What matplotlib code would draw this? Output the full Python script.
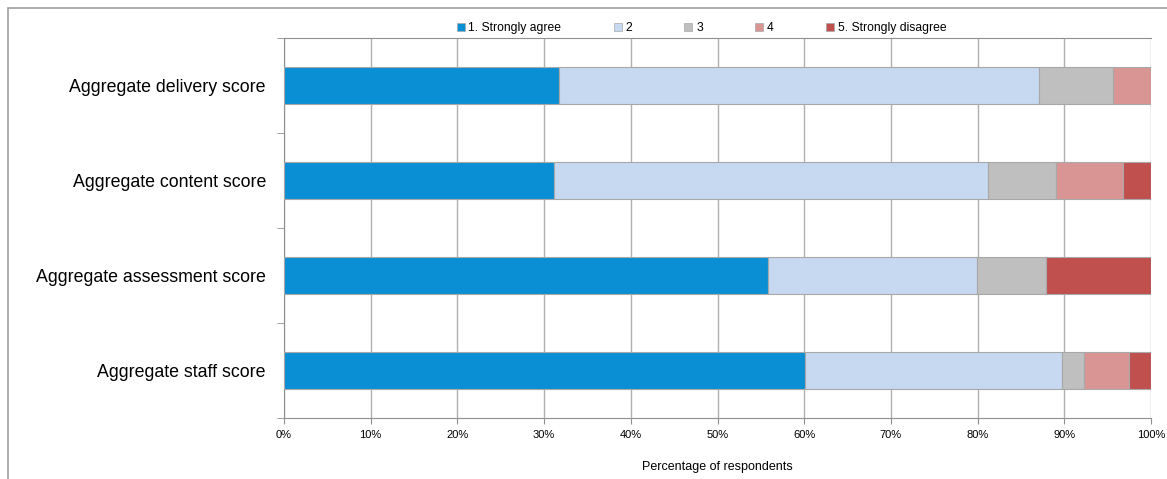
import matplotlib.pyplot as plt
from matplotlib.lines import Line2D
from matplotlib.patches import Rectangle
from matplotlib.ticker import FixedLocator, PercentFormatter

plt.rcParams["font.family"] = ["Liberation Sans", "DejaVu Sans"]

CATEGORIES = [
    "Aggregate delivery score",
    "Aggregate content score",
    "Aggregate assessment score",
    "Aggregate staff score",
]
SERIES = ["1. Strongly agree", "2", "3", "4", "5. Strongly disagree"]
# percentage of respondents per response, one list per category
DELIVERY = [31.7, 55.4, 8.5, 4.4, 0.0]
CONTENT = [31.1, 50.1, 7.8, 7.8, 3.2]
ASSESSMENT = [55.8, 24.1, 8.0, 0.0, 12.1]
STAFF = [60.1, 29.6, 2.6, 5.2, 2.5]
COLORS = ["#0a8fd4", "#c6d9f0", "#bfbfbf", "#d99594", "#c0504d"]

W, H = 1167, 479
fig = plt.figure(figsize=(W / 100, H / 100), dpi=100)
fig.patches.append(Rectangle((8 / W, -0.01), 1.1, 1 - 8 / H + 0.01, transform=fig.transFigure,
                             fill=False, edgecolor="#a0a0a0", linewidth=1.2))
ax = fig.add_axes([284 / W, 1 - 418 / H, 867 / W, 380 / H])

rows = [DELIVERY, CONTENT, ASSESSMENT, STAFF]
ypos = list(range(len(CATEGORIES)))
for s, color in enumerate(COLORS):
    vals = [r[s] for r in rows]
    lefts = [sum(r[:s]) for r in rows]
    ax.barh(ypos, vals, left=lefts, height=0.39, color=color,
            edgecolor="#a8a8a8", linewidth=0.8, zorder=3)

ax.set_xlim(0, 100)
ax.set_ylim(3.5, -0.5)
ax.xaxis.set_major_locator(FixedLocator(range(0, 101, 10)))
ax.xaxis.set_major_formatter(PercentFormatter(decimals=0))
ax.grid(axis="x", color="#b0b0b0", linewidth=1, zorder=0)
ax.tick_params(axis="x", length=4, color="#909090", labelsize=8, pad=5)

ax.set_yticks(ypos)
ax.set_yticklabels(CATEGORIES, fontsize=12.8)
ax.tick_params(axis="y", which="major", length=0, pad=13)
ax.set_yticks([-0.5, 0.5, 1.5, 2.5, 3.5], minor=True)
ax.tick_params(axis="y", which="minor", length=5, color="#909090")

ax.spines["right"].set_visible(False)
for side in ["left", "bottom", "top"]:
    ax.spines[side].set_color("#909090")

ax.set_xlabel("Percentage of respondents", fontsize=9, labelpad=15)

handles = [Line2D([], [], marker="s", linestyle="none", markersize=5.5,
                  markerfacecolor=c, markeredgecolor="#a8a8a8", markeredgewidth=0.5)
           for c in COLORS]
fig.legend(handles, SERIES, loc="center", bbox_to_anchor=(0.601, 1 - 28 / H), ncol=5,
           frameon=False, fontsize=8.7, handlelength=0.7, handletextpad=0.3,
           columnspacing=4.3)

fig.savefig("out.png", dpi=100)
